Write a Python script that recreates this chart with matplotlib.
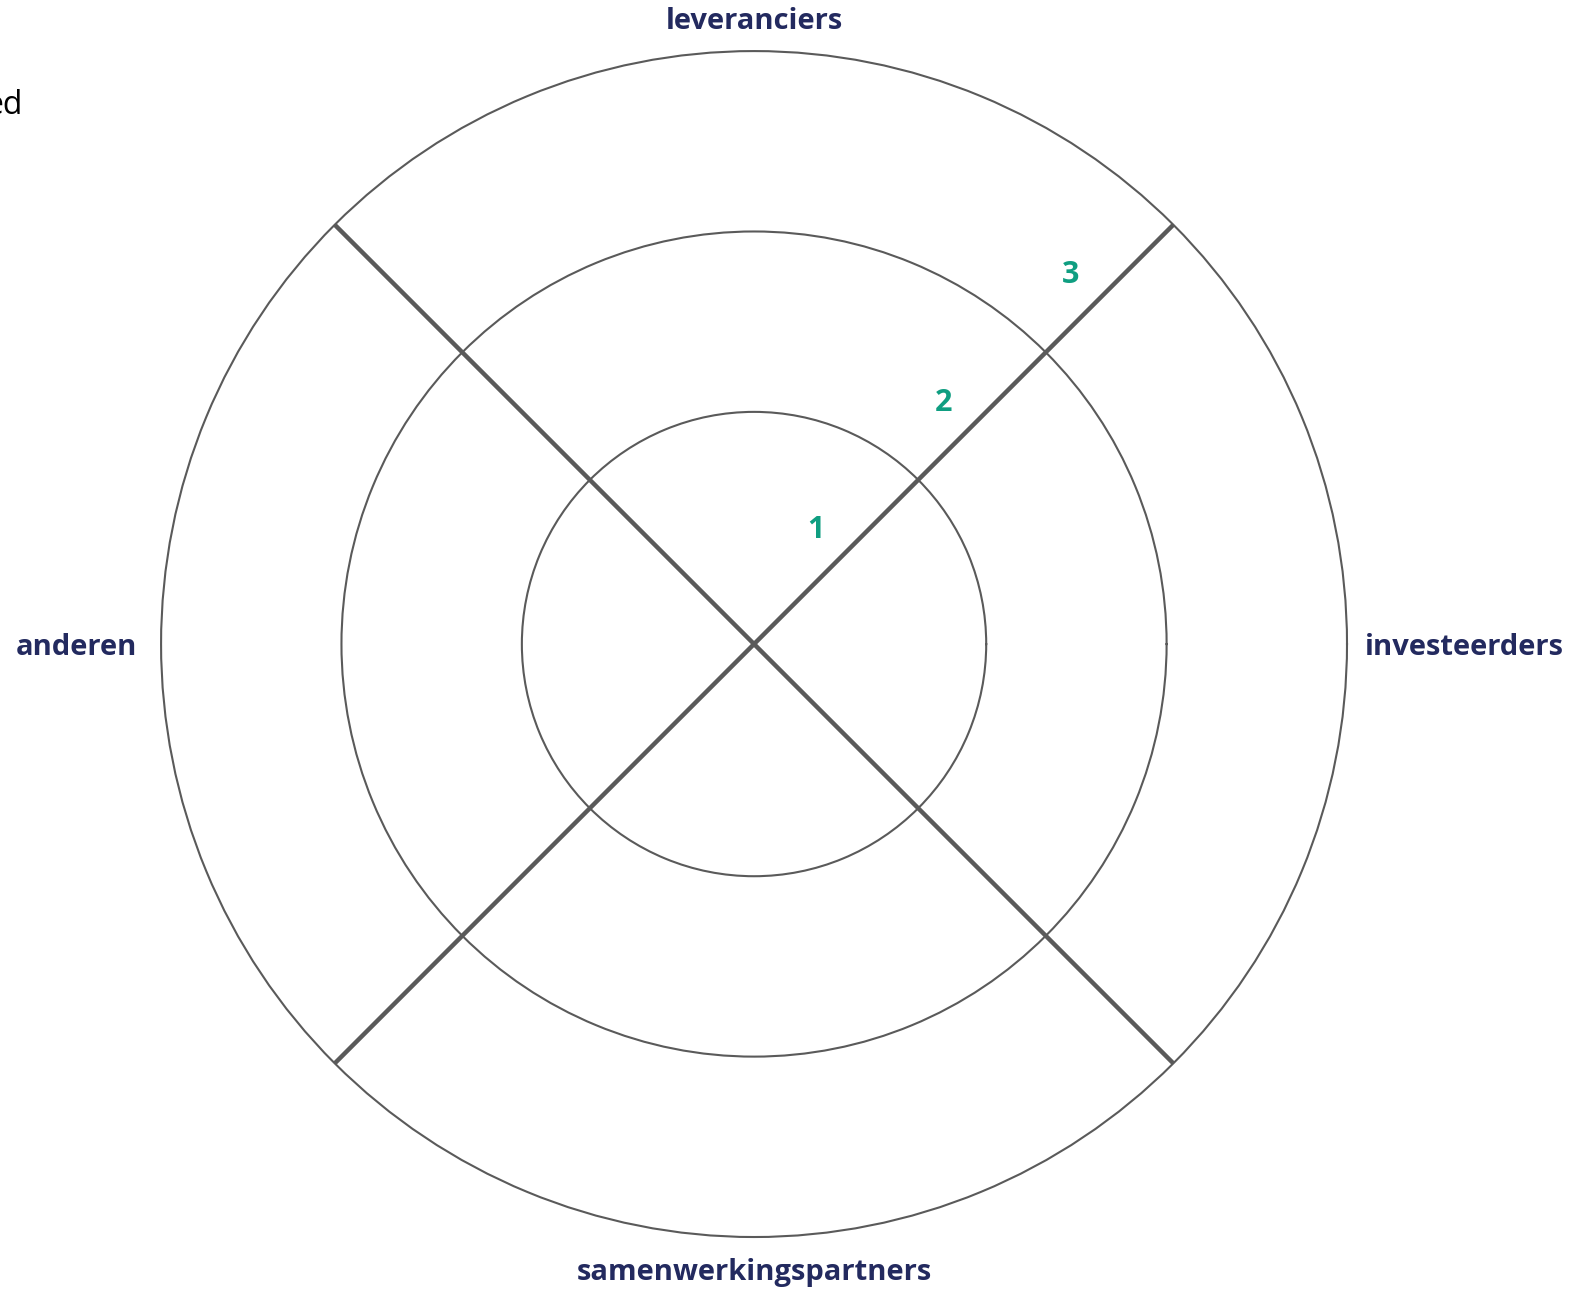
import numpy as np
import matplotlib.pyplot as plt

plt.rcParams['font.family'] = ['Open Sans', 'DejaVu Sans']

# stakeholder groups and where they sit on the circle (degrees, counter-clockwise from east)
categories = ['investeerders', 'leveranciers', 'anderen', 'samenwerkingspartners']
category_angles = [0, 90, 180, 270]
# the four dividing spokes
spoke_angles = [45, 135, 225, 315]
# ring levels
levels = [1, 2, 3]
r_origin = -0.287   # the scale does not start in the centre

navy = '#232a5f'
teal = '#0f9e81'
grey = '#5a5a5a'

fig = plt.figure(figsize=(15.76, 12.89), dpi=100)
ax = fig.add_axes([0.1022, 0.0403, 0.7525, 0.9201], projection='polar')

ax.set_ylim(r_origin, max(levels))
ax.set_yticks(levels[:-1])
ax.set_yticklabels([])
ax.set_xticks(np.deg2rad(spoke_angles))
ax.set_xticklabels([])
ax.tick_params(length=0)
ax.xaxis.grid(True, color=grey, lw=3.2)
ax.yaxis.grid(True, color=grey, lw=1.5)
ax.spines['polar'].set_color(grey)
ax.spines['polar'].set_linewidth(1.5)

# level numbers along the upper-right spoke
for lv in levels:
    ax.annotate(str(lv), xy=(np.deg2rad(45), lv - 0.6), xytext=(-26, 26),
                textcoords='offset pixels', ha='center', va='center',
                color=teal, fontsize=22, fontweight='bold')

# category labels round the outside
offsets = {0: (18, -3, 'left', 'center'), 90: (0, 30, 'center', 'center'),
           180: (-24, -3, 'right', 'center'), 270: (0, -35, 'center', 'center')}
for name, ang in zip(categories, category_angles):
    dx, dy, ha, va = offsets[ang]
    ax.annotate(name, xy=(np.deg2rad(ang), max(levels)), xytext=(dx, dy),
                textcoords='offset pixels', ha=ha, va=va,
                color=navy, fontsize=21, fontweight='bold', annotation_clip=False)

fig.text(23 / 1576, 1 - 106 / 1289, 'ed', ha='right', va='center',
         fontsize=23, color='black')

fig.savefig('out.png', dpi=100)
